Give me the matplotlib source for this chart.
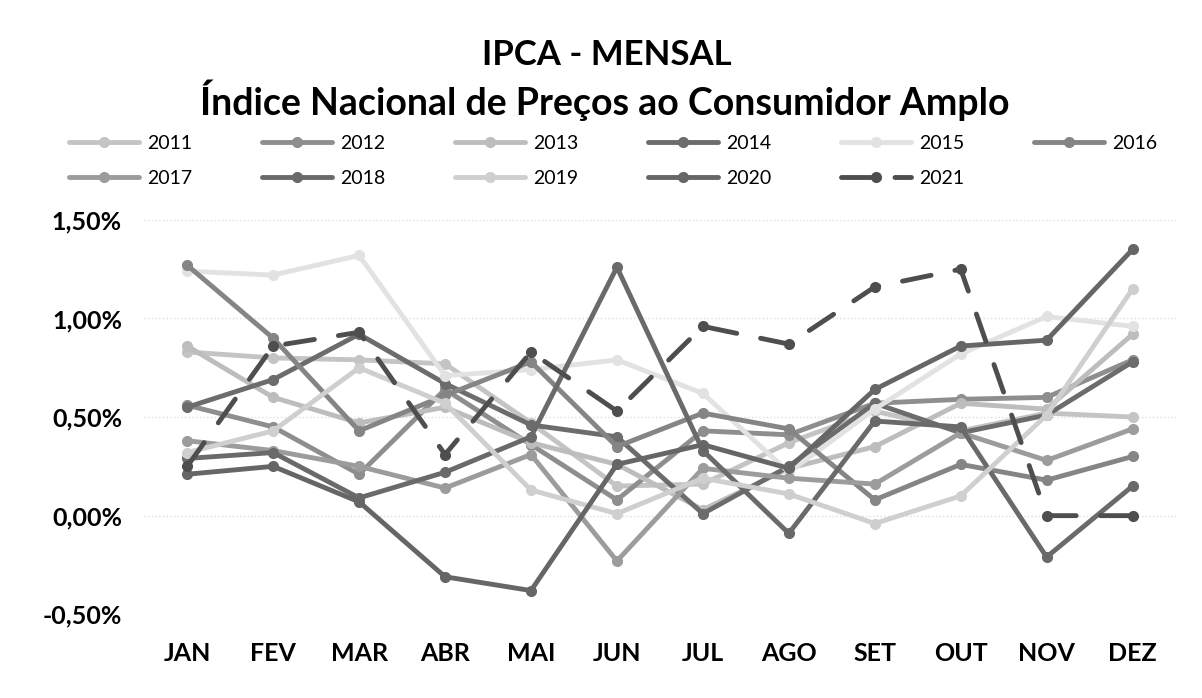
import matplotlib.pyplot as plt

plt.rcParams['font.family'] = ['Lato', 'DejaVu Sans']

months = ['JAN', 'FEV', 'MAR', 'ABR', 'MAI', 'JUN',
          'JUL', 'AGO', 'SET', 'OUT', 'NOV', 'DEZ']
years = ['2011', '2012', '2013', '2014', '2015', '2016',
         '2017', '2018', '2019', '2020', '2021']

# monthly IPCA (%)
ipca_2011 = [0.83, 0.80, 0.79, 0.77, 0.47, 0.15, 0.16, 0.37, 0.53, 0.43, 0.52, 0.50]
ipca_2012 = [0.56, 0.45, 0.21, 0.64, 0.36, 0.08, 0.43, 0.41, 0.57, 0.59, 0.60, 0.79]
ipca_2013 = [0.86, 0.60, 0.47, 0.55, 0.37, 0.26, 0.03, 0.24, 0.35, 0.57, 0.54, 0.92]
ipca_2014 = [0.55, 0.69, 0.92, 0.67, 0.46, 0.40, 0.01, 0.25, 0.57, 0.42, 0.51, 0.78]
ipca_2015 = [1.24, 1.22, 1.32, 0.71, 0.74, 0.79, 0.62, 0.22, 0.54, 0.82, 1.01, 0.96]
ipca_2016 = [1.27, 0.90, 0.43, 0.61, 0.78, 0.35, 0.52, 0.44, 0.08, 0.26, 0.18, 0.30]
ipca_2017 = [0.38, 0.33, 0.25, 0.14, 0.31, -0.23, 0.24, 0.19, 0.16, 0.42, 0.28, 0.44]
ipca_2018 = [0.29, 0.32, 0.09, 0.22, 0.40, 1.26, 0.33, -0.09, 0.48, 0.45, -0.21, 0.15]
ipca_2019 = [0.32, 0.43, 0.75, 0.57, 0.13, 0.01, 0.19, 0.11, -0.04, 0.10, 0.51, 1.15]
ipca_2020 = [0.21, 0.25, 0.07, -0.31, -0.38, 0.26, 0.36, 0.24, 0.64, 0.86, 0.89, 1.35]
ipca_2021 = [0.25, 0.86, 0.93, 0.31, 0.83, 0.53, 0.96, 0.87, 1.16, 1.25, 0.0, 0.0]

series = [ipca_2011, ipca_2012, ipca_2013, ipca_2014, ipca_2015, ipca_2016,
          ipca_2017, ipca_2018, ipca_2019, ipca_2020, ipca_2021]
grays = ['#c4c4c4', '#8e8e8e', '#bdbdbd', '#6c6c6c', '#e2e2e2', '#858585',
         '#9c9c9c', '#6a6a6a', '#cfcfcf', '#666666', '#4e4e4e']

fig = plt.figure(figsize=(12.02, 6.98), dpi=100)
ax = fig.add_axes([0.12, 0.12, 0.858, 0.565])

x = list(range(len(months)))
handles = []
for yr, vals, c in zip(years, series, grays):
    if yr == '2021':
        ln, = ax.plot(x, vals, color=c, lw=3.5, marker='o', ms=7,
                      dashes=(6, 5), dash_capstyle='round', zorder=5)
    else:
        ln, = ax.plot(x, vals, color=c, lw=3.5, marker='o', ms=7,
                      solid_capstyle='round', zorder=3)
    handles.append(ln)

ax.set_xlim(-0.5, 11.5)
ax.set_ylim(-0.5, 1.5)
ax.set_xticks(x)
ax.set_xticklabels(months, fontsize=18, fontweight='bold')
ax.set_yticks([-0.5, 0.0, 0.5, 1.0, 1.5])
ax.set_yticklabels(['-0,50%', '0,00%', '0,50%', '1,00%', '1,50%'],
                   fontsize=18, fontweight='bold')
ax.tick_params(length=0)
ax.tick_params(axis='y', pad=16)
ax.tick_params(axis='x', pad=20)
ax.grid(axis='y', color='#dddddd', lw=1, ls=':')
for s in ax.spines.values():
    s.set_visible(False)

fig.text(0.505, 1 - 55 / 698, 'IPCA - MENSAL', ha='center', va='center',
         fontsize=25, fontweight='bold')
fig.text(0.503, 1 - 100 / 698, 'Índice Nacional de Preços ao Consumidor Amplo',
         ha='center', va='center', fontsize=27, fontweight='bold')

# legend filled row by row (6 per row)
order = [0, 6, 1, 7, 2, 8, 3, 9, 4, 10, 5]
fig.legend([handles[i] for i in order], [years[i] for i in order],
           ncol=6, loc='center', bbox_to_anchor=(0.51, 1 - 161 / 698),
           frameon=False, fontsize=14, handlelength=3.6, columnspacing=3.6,
           handletextpad=0.4, labelspacing=0.95)

plt.savefig('out.png', dpi=100)
